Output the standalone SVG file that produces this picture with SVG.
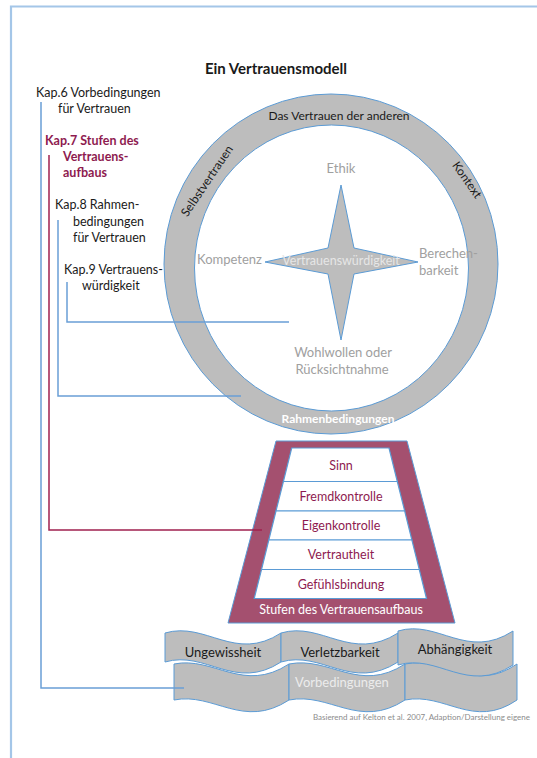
<svg xmlns="http://www.w3.org/2000/svg" width="537" height="758" viewBox="0 0 537 758">
<style>
text{font-family:Lato,"Liberation Sans",sans-serif;font-size:12.5px}
.k{fill:#1a1a1a}
.m{fill:#8e1b50;font-weight:bold}
.g{fill:#a0a0a0;font-size:13px}
.w{fill:#ffffff}
.c{text-anchor:middle}
.shape{fill:#bdbdbd;stroke:#5b9bd5;stroke-width:1}
.step{fill:#ffffff;stroke:#5b9bd5;stroke-width:1.2}
.st{fill:#8e1b50;text-anchor:middle;font-size:12.5px}
.line{fill:none;stroke:#6a9fd6;stroke-width:1.5}
.mline{fill:none;stroke:#a0204f;stroke-width:1.5}
</style>
<g id="frame"><path d="M537,6.5 H11 V758" fill="none" stroke="#a4c6e8" stroke-width="2.2"/></g>
<g id="title"><text x="276" y="74" class="c k" style="font-size:15px;font-weight:bold">Ein Vertrauensmodell</text></g>
<g id="labels">
<text x="36" y="97" class="k">Kap.6 Vorbedingungen</text>
<text x="58" y="113" class="k">für Vertrauen</text>
<text x="45" y="145" class="m">Kap.7 Stufen des</text>
<text x="63" y="161" class="m">Vertrauens-</text>
<text x="63" y="177" class="m">aufbaus</text>
<text x="55" y="209" class="k">Kap.8 Rahmen-</text>
<text x="73" y="226" class="k">bedingungen</text>
<text x="73" y="242" class="k">für Vertrauen</text>
<text x="64" y="274" class="k">Kap.9 Vertrauens-</text>
<text x="82" y="290" class="k">würdigkeit</text>
</g>
<g id="ring">
<ellipse cx="331" cy="264" rx="167" ry="170" class="shape"/>
<ellipse cx="331.5" cy="268" rx="137" ry="143" fill="#ffffff" stroke="#5b9bd5" stroke-width="1"/>
<text x="339" y="120" class="c k" style="font-size:12px">Das Vertrauen der anderen</text>
<text transform="translate(207,181) rotate(-56)" y="4" class="c k" style="font-size:12px">Selbstvertrauen</text>
<text transform="translate(467,180) rotate(55)" y="4" class="c k" style="font-size:12px">Kontext</text>
<text x="338" y="423" class="c w" style="font-weight:bold;font-size:12px">Rahmenbedingungen</text>
</g>
<g id="star">
<path d="M341,185 L354,248 L418,262 L354,274 L341,340 L328,274 L265,262 L328,248 Z" class="shape"/>
<text x="341" y="265" class="c" style="fill:#e6e6e6;font-size:12.5px">Vertrauenswürdigkeit</text>
<text x="341" y="173" class="c g">Ethik</text>
<text x="262" y="264" class="g" text-anchor="end">Kompetenz</text>
<text x="419" y="258" class="g">Berechen-</text>
<text x="419" y="275" class="g">barkeit</text>
<text x="343" y="357" class="c g">Wohlwollen oder</text>
<text x="342" y="374" class="c g">Rücksichtnahme</text>
</g>
<g id="stufen">
<path d="M276,441 H407 L455,623 H228 Z" fill="#a4506f" stroke="#5b9bd5" stroke-width="1"/>
<path d="M291.7,448 H389 L397.3,481.5 H283.4 Z" class="step"/>
<path d="M283.4,481.5 H397.3 L404.7,511 H276 Z" class="step"/>
<path d="M276,511 H404.7 L411.9,540 H268.8 Z" class="step"/>
<path d="M268.8,540 H411.9 L419.3,569.5 H261.5 Z" class="step"/>
<path d="M261.5,569.5 H419.3 L426.5,598.5 H254.2 Z" class="step"/>
<text x="341" y="470" class="st">Sinn</text>
<text x="341" y="501" class="st">Fremdkontrolle</text>
<text x="341" y="530" class="st">Eigenkontrolle</text>
<text x="341" y="559" class="st">Vertrautheit</text>
<text x="341" y="589" class="st">Gefühlsbindung</text>
<text x="341" y="614" class="c w">Stufen des Vertrauensaufbaus</text>
</g>
<g id="vorbedingungen">
<path d="M174,664 C214,656 243,694 289,664 L289,700 C243,730 214,692 174,700 Z" class="shape"/>
<path d="M289,664 C330,656 359,694 405,664 L405,700 C359,730 330,692 289,700 Z" class="shape"/>
<path d="M405,664 C445,656 473,694 517,664 L517,700 C473,730 445,692 405,700 Z" class="shape"/>
<text x="342" y="687" class="c" style="fill:#ececec;font-size:13px">Vorbedingungen</text>
</g>
<g id="ungewissheit">
<path d="M165,633 C206,621 235,663 281,633 L281,662 C235,692 206,650 165,662 Z" class="shape"/>
<text x="223" y="657" class="c k" style="font-size:13px">Ungewissheit</text>
</g>
<g id="verletzbarkeit">
<path d="M281,633 C322,621 351,663 398,633 L398,662 C351,692 322,650 281,662 Z" class="shape"/>
<text x="340" y="657" class="c k" style="font-size:13px">Verletzbarkeit</text>
</g>
<g id="abhaengigkeit">
<path d="M398,631 C438,619 467,661 513,631 L513,665 C467,695 438,653 398,665 Z" class="shape"/>
<text x="455" y="654" class="c k" style="font-size:13px">Abhängigkeit</text>
</g>
<g id="source"><text x="530" y="720" text-anchor="end" style="font-size:8px;fill:#8c8c8c">Basierend auf Kelton et al. 2007, Adaption/Darstellung eigene</text></g>
<g id="connectors">
<path d="M41,102 V688 H184" class="line"/>
<path d="M49,155 V530 H262" class="mline"/>
<path d="M58,220 V396 H241" class="line"/>
<path d="M67,282 V322 H289" class="line"/>
</g>
</svg>
